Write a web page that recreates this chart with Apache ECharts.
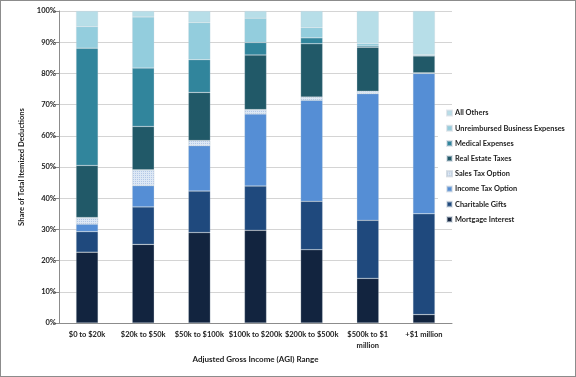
<!DOCTYPE html>
<html>
<head>
<meta charset="utf-8">
<script src="https://cdn.jsdelivr.net/npm/echarts@6/dist/echarts.min.js"></script>
<style>
  html, body { margin: 0; padding: 0; background: #fff; }
  #chart { width: 576px; height: 377px; box-sizing: border-box; border: 1px solid #8c8c8c; }
</style>
</head>
<body>
<div id="chart"></div>
<script>
var chartDom = document.getElementById('chart');
var myChart = echarts.init(chartDom);
var option;

// income ranges
const categories = ['$0 to $20k', '$20k to $50k', '$50k to $100k', '$100k to $200k',
  '$200k to $500k', '$500k to $1\nmillion', '+$1 million'];

// share of itemized deductions, percent
const mortgage     = [22.7, 25.2, 29.0, 29.7, 23.5, 14.3, 2.7];
const charitable   = [6.6, 12.0, 13.3, 14.2, 15.5, 18.6, 32.3];
const incomeTax    = [2.4, 6.8, 14.5, 23.1, 32.4, 40.6, 45.0];
const salesTax     = [2.1, 5.1, 1.7, 1.4, 1.0, 0.8, 0.2];
const realEstate   = [16.7, 13.9, 15.4, 17.5, 17.1, 14.1, 5.4];
const medical      = [37.6, 18.7, 10.5, 4.0, 1.9, 0.4, 0.1];
const unreimbursed = [6.9, 16.4, 11.9, 7.8, 3.3, 0.8, 0.3];
const allOthers    = [5.0, 1.9, 3.7, 2.3, 5.3, 10.4, 14.0];

const names = ['Mortgage Interest', 'Charitable Gifts', 'Income Tax Option', 'Sales Tax Option',
  'Real Estate Taxes', 'Medical Expenses', 'Unreimbursed Business Expenses', 'All Others'];
const values = [mortgage, charitable, incomeTax, salesTax, realEstate, medical, unreimbursed, allOthers];
const colors = ['#12243f', '#1f497d', '#558ed5', '#dde8f5', '#215968', '#31859c', '#93cddd', '#b7dee8'];

const font = 'Lato, "Open Sans", sans-serif';

option = {
  animation: false,
  color: colors,
  grid: { left: 58, right: 123, top: 10, bottom: 53 },
  legend: {
    orient: 'vertical',
    left: 437,
    top: 105,
    padding: [2, 2, 2, 8],
    backgroundColor: '#fff',
    itemWidth: 5,
    itemHeight: 5,
    itemGap: 5.2,
    icon: 'rect',
    data: names.slice().reverse(),
    textStyle: { fontFamily: font, fontSize: 7.4, fontWeight: 'bold', color: '#222', lineHeight: 10, padding: [0, 0, 0, -2] }
  },
  xAxis: {
    type: 'category',
    data: categories,
    name: 'Adjusted Gross Income (AGI) Range',
    nameLocation: 'middle',
    nameGap: 30,
    nameTextStyle: { fontFamily: font, fontSize: 8, fontWeight: 'bold', color: '#222' },
    axisLine: { lineStyle: { color: '#8c8c8c' } },
    axisTick: { length: 4, lineStyle: { color: '#8c8c8c' } },
    axisLabel: { fontFamily: font, fontSize: 7.5, fontWeight: 'bold', color: '#222', margin: 6, lineHeight: 11, interval: 0 }
  },
  yAxis: {
    type: 'value',
    min: 0,
    max: 100,
    interval: 10,
    name: 'Share of Total Itemized Deductions',
    nameLocation: 'middle',
    nameGap: 28,
    nameTextStyle: { fontFamily: font, fontSize: 7.6, fontWeight: 'bold', color: '#222' },
    axisLine: { show: true, lineStyle: { color: '#8c8c8c' } },
    axisTick: { show: true, length: 5, lineStyle: { color: '#8c8c8c' } },
    axisLabel: { formatter: '{value}%', fontFamily: font, fontSize: 7.5, fontWeight: 'bold', color: '#222', margin: 3 },
    splitLine: { lineStyle: { color: '#d4d4d4' } }
  },
  series: names.map(function (n, i) {
    var s = {
      name: n,
      type: 'bar',
      stack: 'total',
      barWidth: 22,
      data: values[i],
      itemStyle: { borderColor: 'rgba(200,210,220,0.5)', borderWidth: 0.5 }
    };
    if (n === 'Sales Tax Option') {
      s.itemStyle.decal = {
        symbol: 'rect',
        symbolSize: 1,
        color: '#b3c8e6',
        dashArrayX: [1, 1],
        dashArrayY: [1, 1],
        rotation: 0
      };
    }
    return s;
  })
};

option && myChart.setOption(option);
</script>
</body>
</html>
